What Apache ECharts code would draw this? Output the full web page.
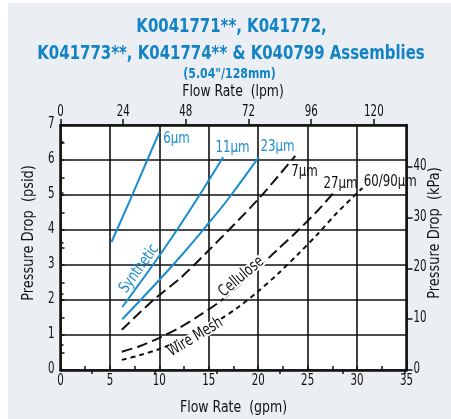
<!DOCTYPE html>
<html><head><meta charset="utf-8">
<script src="https://cdn.jsdelivr.net/npm/echarts@6/dist/echarts.min.js"></script>
<style>html,body{margin:0;padding:0;background:#fff}#c{width:451px;height:419px}</style>
</head><body><div id="c"></div>
<script>
// ---- data (x: gpm, y: psid) ----
const syn6 = [[5.15,3.65],[7.05,4.86],[10.0,6.8]];
const syn11 = [[6.25,1.8],[11.3,3.8],[16.45,6.08]];
const syn23 = [[6.25,1.45],[9,2.27],[12,3.2],[15,4.2],[17,4.9],[20.05,6.08]];
const cel7 = [[6.2,1.15],[9.4,2.0],[12.1,2.62],[15,3.42],[20,4.88],[23.75,6.12]];
const cel27 = [[6.2,0.52],[8,0.68],[10,0.92],[12,1.2],[14,1.55],[16,1.93],[18,2.4],[20,2.92],[22,3.45],[24,3.98],[26,4.55],[27.8,5.12]];
const wire6090 = [[6.2,0.29],[8,0.42],[10,0.6],[12,0.83],[14,1.1],[16,1.42],[18,1.8],[20,2.25],[22,2.75],[24,3.3],[26,3.88],[28,4.5],[30.55,5.2]];
const gpmTicks = [0,5,10,15,20,25,30,35];
const psiTicks = [0,1,2,3,4,5,6,7];
const lpmTicks = [0,24,48,72,96,120];
const lpmMinor = [12,36,60,84,108,132];
const kpaTicks = [0,10,20,30,40];
const kpaMinor = [5,15,25,35,45];
const labelTexts = ['6µm','11µm','23µm','7µm','27µm','60/90µm','Synthetic','Cellulose','Wire Mesh'];
const labelAnchors = [[10.4,6.6],[15.67,6.36],[20.23,6.37],[23.35,5.67],[26.6,5.31],[30.68,5.38],[7.96,2.89],[18.3,2.66],[13.64,0.94]];
const titleLines = ['K0041771**, K041772,','K041773**, K041774** & K040799 Assemblies'];
const subTitle = '(5.04"/128mm)';
const xNameBottom = 'Flow Rate  (gpm)', xNameTop = 'Flow Rate  (lpm)';
const yNameLeft = 'Pressure Drop  (psid)', yNameRight = 'Pressure Drop  (kPa)';

const GPM2LPM = 3.785411784, PSI2KPA = 6.894757;
const FONT = '"DejaVu Sans Condensed","DejaVu Sans",sans-serif';
const BLUE = '#1a8dcf', TBLUE = '#1284c6', BLACK = '#111';

const chart = echarts.init(document.getElementById('c'), null, {renderer:'canvas'});

const lineSeries = (data, color, dash, smooth) => ({
  type:'line', data, xAxisIndex:0, yAxisIndex:0, showSymbol:false, smooth:smooth,
  lineStyle:{color, width:2, type:dash}, silent:true, animation:false, z:5
});

const labelColors = [BLUE,BLUE,BLUE,BLACK,BLACK,BLACK,BLUE,BLACK,BLACK];
const labelRot = [0,0,0,0,0,0,54,40,31];
const labelAlign = ['left','left','left','left','left','left','center','center','center'];
const labelBg = [false,false,false,false,false,false,false,true,true];

function tickLabels(values, side) {
  const xi = side==='top' ? 1 : 0, yi = side==='right' ? 1 : 0;
  const data = values.map(v => side==='bottom' ? [v,0] : side==='top' ? [v,7] : side==='left' ? [0,v] : [35,v]);
  return {type:'custom', xAxisIndex:xi, yAxisIndex:yi, clip:false, silent:true, z:20, data,
    renderItem(params, api){
      const p = api.coord([api.value(0), api.value(1)]);
      const v = side==='bottom'||side==='top' ? api.value(0) : api.value(1);
      let x=p[0], y=p[1], align='center';
      if (side==='bottom') y += 11.5;
      else if (side==='top') y -= 13;
      else if (side==='left') { x -= 6; y -= 0.5; align='right'; }
      else { x += 7; y -= 1; align='left'; }
      return {type:'text', x, y, scaleX:0.76, style:{text:String(v), align, verticalAlign:'middle',
        fill:BLACK, font:'15px '+FONT}};
    }};
}

const txt = (text, x, y, opts) => Object.assign({type:'text', x, y, silent:true, z:50,
  style:{text, align:'center', verticalAlign:'middle', fill:BLACK, font:'16px '+FONT}}, opts||{});

chart.setOption({
  animation:false,
  graphic:[
    {type:'rect', shape:{x:8,y:3,width:443,height:416}, style:{fill:'#ebeef2'}, z:-10, silent:true},
    txt(titleLines[0], 231.5, 27, {scaleX:0.83, style:{text:titleLines[0], align:'center', verticalAlign:'middle', fill:TBLUE, font:'bold 20px '+FONT}}),
    txt(titleLines[1], 231, 53.5, {scaleX:0.83, style:{text:titleLines[1], align:'center', verticalAlign:'middle', fill:TBLUE, font:'bold 20px '+FONT}}),
    txt(subTitle, 229.5, 74.5, {scaleX:0.87, style:{text:subTitle, align:'center', verticalAlign:'middle', fill:TBLUE, font:'bold 14px '+FONT}}),
    txt(xNameTop, 233, 92, {scaleX:0.86}),
    txt(xNameBottom, 233.5, 408, {scaleX:0.87}),
    txt(yNameLeft, 29, 233, {scaleX:0.9, rotation:Math.PI/2}),
    txt(yNameRight, 435, 233, {scaleX:0.9, rotation:Math.PI/2})
  ],
  grid:{left:60.5, top:125, width:346, height:245, show:true, backgroundColor:'#fff', borderWidth:0},
  xAxis:[
    {type:'value', position:'bottom', min:0, max:35, interval:5,
     axisLine:{show:true, onZero:false, lineStyle:{color:BLACK, width:2.5}},
     axisTick:{show:true, inside:true, length:4, lineStyle:{color:BLACK,width:1.5}},
     minorTick:{show:true, splitNumber:2, length:4, lineStyle:{color:BLACK,width:1.5}},
     splitLine:{show:true, lineStyle:{color:BLACK, width:1.6}},
     axisLabel:{show:false}},
    {type:'value', position:'top', min:0, max:35*GPM2LPM,
     axisLine:{show:true, onZero:false, lineStyle:{color:BLACK, width:2.5}},
     axisTick:{show:true, inside:false, length:6, customValues:lpmTicks, lineStyle:{color:BLACK,width:1.5}},
     splitLine:{show:false}, axisLabel:{show:false}},
    {type:'value', position:'top', min:0, max:35*GPM2LPM,
     axisLine:{show:false},
     axisTick:{show:true, inside:true, length:4, customValues:lpmMinor, lineStyle:{color:BLACK,width:1.5}},
     splitLine:{show:false}, axisLabel:{show:false}}
  ],
  yAxis:[
    {type:'value', position:'left', min:0, max:7, interval:1,
     axisLine:{show:true, onZero:false, lineStyle:{color:BLACK, width:2.5}},
     axisTick:{show:true, inside:true, length:4, lineStyle:{color:BLACK,width:1.5}},
     minorTick:{show:true, splitNumber:2, length:4, lineStyle:{color:BLACK,width:1.5}},
     splitLine:{show:true, lineStyle:{color:BLACK, width:1.6}},
     axisLabel:{show:false}},
    {type:'value', position:'right', min:0, max:7*PSI2KPA,
     axisLine:{show:true, onZero:false, lineStyle:{color:BLACK, width:2.5}},
     axisTick:{show:true, inside:false, length:6, customValues:kpaTicks, lineStyle:{color:BLACK,width:1.5}},
     splitLine:{show:false}, axisLabel:{show:false}},
    {type:'value', position:'right', min:0, max:7*PSI2KPA,
     axisLine:{show:false},
     axisTick:{show:true, inside:false, length:3, customValues:kpaMinor, lineStyle:{color:BLACK,width:1.5}},
     splitLine:{show:false}, axisLabel:{show:false}}
  ],
  series:[
    lineSeries(syn6, BLUE, 'solid', false),
    lineSeries(syn11, BLUE, 'solid', 0.4),
    lineSeries(syn23, BLUE, 'solid', 0.4),
    lineSeries(cel7, BLACK, [11,5], 0.3),
    lineSeries(cel27, BLACK, [11,5], 0.3),
    lineSeries(wire6090, BLACK, [5,4], 0.3),
    tickLabels(gpmTicks, 'bottom'),
    tickLabels(lpmTicks, 'top'),
    tickLabels(psiTicks, 'left'),
    tickLabels(kpaTicks, 'right'),
    {type:'custom', xAxisIndex:0, yAxisIndex:0, clip:false, silent:true, z:10,
     data: labelAnchors,
     renderItem(params, api){
       const i = params.dataIndex;
       const p = api.coord([api.value(0), api.value(1)]);
       const bg = labelBg[i];
       return {type:'text', x:p[0], y:p[1], rotation:labelRot[i]*Math.PI/180, scaleX:0.82,
         style:{text:labelTexts[i], align:labelAlign[i], verticalAlign:'middle', fill:labelColors[i],
           font:'16px '+FONT, backgroundColor: bg ? '#fff' : null, padding: bg ? [-2,1] : 0}};
     }}
  ]
});
</script></body></html>
